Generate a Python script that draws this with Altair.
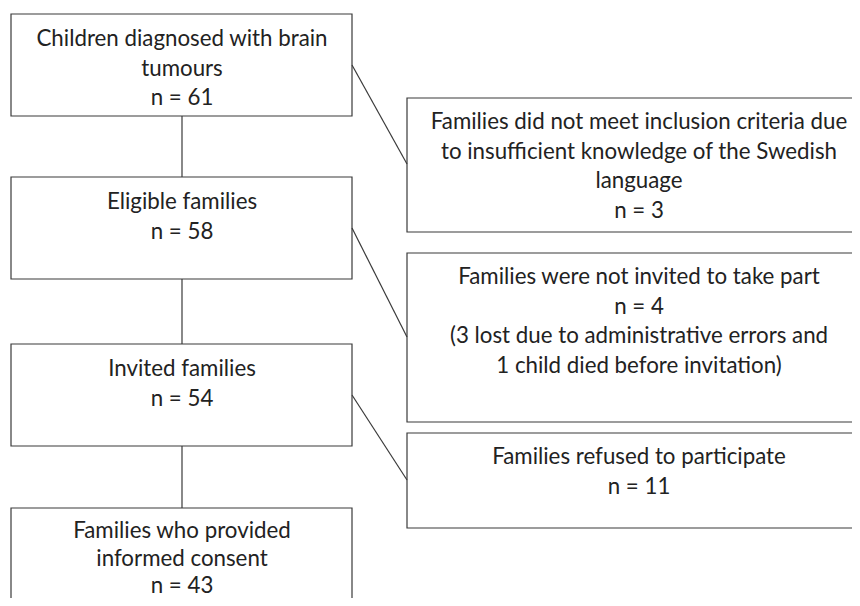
import altair as alt
import pandas as pd

# Flowchart boxes (reference pixel coordinates)
box_id = ["b1", "b2", "b3", "b4", "bA", "bB", "bC"]
box_x0 = [11, 11, 11, 11, 407, 407, 407]
box_x1 = [352, 352, 352, 352, 872, 872, 872]
box_y0 = [14, 177, 344, 508, 98, 253, 433]
box_y1 = [116, 279, 446, 625, 232, 422, 528]

# Box labels
box_lines = [
    ["Children diagnosed with brain", "tumours", "n = 61"],
    ["Eligible families", "n = 58"],
    ["Invited families", "n = 54"],
    ["Families who provided", "informed consent", "n = 43"],
    ["Families did not meet inclusion criteria due",
     "to insufficient knowledge of the Swedish", "language", "n = 3"],
    ["Families were not invited to take part", "n = 4",
     "(3 lost due to administrative errors and",
     "1 child died before invitation)"],
    ["Families refused to participate", "n = 11"],
]
first_line_y = [39, 202, 369, 531, 122, 277, 457]
line_gaps = [29.7, 29.7, 29.7, 27.5, 29.7, 29.7, 29.7]
text_cx = [182, 182, 182, 182, 639, 639, 639]

# Connectors
conn_x0 = [182, 182, 182, 352, 352, 352]
conn_y0 = [116, 279, 446, 65, 228, 395]
conn_x1 = [182, 182, 182, 407, 407, 407]
conn_y1 = [177, 344, 508, 164, 337, 480]

boxes = pd.DataFrame({"id": box_id, "x0": box_x0, "x1": box_x1,
                      "y0": box_y0, "y1": box_y1})

rows = []
for i, lines in enumerate(box_lines):
    for j, t in enumerate(lines):
        rows.append({"x": text_cx[i], "y": first_line_y[i] + j * line_gaps[i], "t": t})
texts = pd.DataFrame(rows)

conns = pd.DataFrame({"x0": conn_x0, "y0": conn_y0,
                      "x1": conn_x1, "y1": conn_y1})

xs = alt.Scale(domain=[8, 852])
ys = alt.Scale(domain=[8, 598], reverse=True)

rects = alt.Chart(boxes).mark_rect(
    fill=None, filled=False, stroke="#3a3a3a", strokeWidth=1.2, clip=True
).encode(
    x=alt.X("x0:Q", scale=xs, axis=None),
    x2="x1:Q",
    y=alt.Y("y0:Q", scale=ys, axis=None),
    y2="y1:Q",
)

lines = alt.Chart(conns).mark_rule(
    stroke="#3a3a3a", strokeWidth=1.2, clip=True
).encode(
    x=alt.X("x0:Q", scale=xs, axis=None),
    x2="x1:Q",
    y=alt.Y("y0:Q", scale=ys, axis=None),
    y2="y1:Q",
)

labels = alt.Chart(texts).mark_text(
    font="Lato", fontSize=22.3, color="#222222", align="center",
    baseline="middle"
).encode(
    x=alt.X("x:Q", scale=xs, axis=None),
    y=alt.Y("y:Q", scale=ys, axis=None),
    text="t:N",
)

chart = alt.layer(rects, lines, labels).properties(
    width=844, height=590, padding=0,
    autosize=alt.AutoSizeParams(type="none"),
    background="white",
).configure_view(stroke=None)

chart.save("out.html", embed_options={"renderer": "svg", "actions": False})
